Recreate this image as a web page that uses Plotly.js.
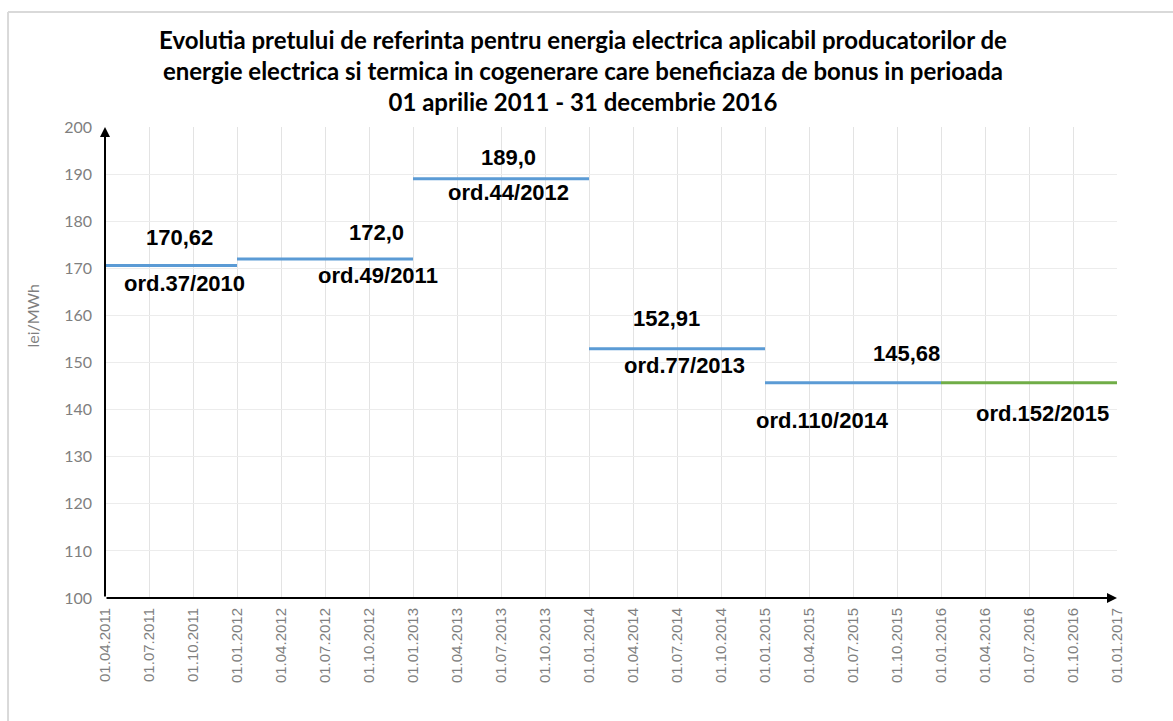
<!DOCTYPE html>
<html>
<head>
<meta charset="utf-8">
<script src="https://cdn.plot.ly/plotly-3.0.1.min.js"></script>
<style>
  html, body { margin: 0; padding: 0; background: #ffffff; }
  #chart { width: 1173px; height: 721px; }
</style>
</head>
<body>
<div id="chart"></div>
<script>
// ---- data ----
const tickLabels = ['01.04.2011','01.07.2011','01.10.2011','01.01.2012','01.04.2012','01.07.2012','01.10.2012',
  '01.01.2013','01.04.2013','01.07.2013','01.10.2013','01.01.2014','01.04.2014','01.07.2014','01.10.2014',
  '01.01.2015','01.04.2015','01.07.2015','01.10.2015','01.01.2016','01.04.2016','01.07.2016','01.10.2016','01.01.2017'];
const periodStart = ['01.04.2011','01.01.2012','01.01.2013','01.01.2014','01.01.2015','01.01.2016'];
const periodEnd   = ['01.01.2012','01.01.2013','01.01.2014','01.01.2015','01.01.2016','01.01.2017'];
const prices      = [170.62, 172.0, 189.0, 152.91, 145.68, 145.68];
const priceLabels = ['170,62', '172,0', '189,0', '152,91', '145,68', ''];
const orders      = ['ord.37/2010','ord.49/2011','ord.44/2012','ord.77/2013','ord.110/2014','ord.152/2015'];
const yTicks      = [100, 110, 120, 130, 140, 150, 160, 170, 180, 190, 200];

// ---- styling / label placement (not data) ----
const lineColors = ['#5b9bd5','#5b9bd5','#5b9bd5','#5b9bd5','#5b9bd5','#70ad47'];
// label anchor positions in axis units (x in quarter index, y in lei/MWh)
const priceLabelPos = [[1.70,176.6],[6.18,177.7],[9.16,193.6],[12.77,159.4],[18.22,152.0]];
const orderLabelPos = [[1.80,166.7],[6.20,168.4],[9.16,186.0],[13.16,149.3],[16.30,137.6],[21.30,139.1]];

const idx = d => tickLabels.indexOf(d);
const tickVals = tickLabels.map((_, i) => i);

const traces = periodStart.map((s, i) => ({
  type: 'scatter',
  mode: 'lines',
  x: [idx(s), idx(periodEnd[i])],
  y: [prices[i], prices[i]],
  line: { color: lineColors[i], width: 3 },
  hoverinfo: 'y',
  showlegend: false
}));

const labelFont = { family: 'Liberation Sans, Arial, sans-serif', size: 22, color: '#000000' };
const annotations = [];
priceLabelPos.forEach((p, i) => {
  if (!priceLabels[i]) return;
  annotations.push({ x: p[0], y: p[1], xref: 'x', yref: 'y', text: '<b>' + priceLabels[i] + '</b>',
    showarrow: false, font: labelFont });
});
orderLabelPos.forEach((p, i) => {
  annotations.push({ x: p[0], y: p[1], xref: 'x', yref: 'y', text: '<b>' + orders[i] + '</b>',
    showarrow: false, font: labelFont });
});
// axis arrows
annotations.push({ x: 0, y: 200, ax: 0, ay: 100, xref: 'x', yref: 'y', axref: 'x', ayref: 'y',
  text: '', showarrow: true, arrowhead: 2, arrowsize: 1, arrowwidth: 2, arrowcolor: '#000000', standoff: 0, startstandoff: 0 });
annotations.push({ x: tickVals.length - 1, y: 100, ax: 0, ay: 100, xref: 'x', yref: 'y', axref: 'x', ayref: 'y',
  text: '', showarrow: true, arrowhead: 2, arrowsize: 1, arrowwidth: 2, arrowcolor: '#000000', standoff: 0, startstandoff: 0 });
// y axis title
annotations.push({ xref: 'paper', yref: 'paper', x: -0.072, y: 0.60, xanchor: 'center', yanchor: 'middle',
  text: 'lei/MWh', textangle: -90,
  showarrow: false, font: { family: 'Lato, Liberation Sans, sans-serif', size: 16, color: '#7f7f7f' } });

const layout = {
  width: 1173, height: 721,
  paper_bgcolor: '#ffffff', plot_bgcolor: '#ffffff',
  margin: { l: 105, r: 56, t: 127, b: 123 },
  title: {
    text: '<b>Evolutia pretului de referinta pentru energia electrica aplicabil producatorilor de<br>energie electrica si termica in cogenerare care beneficiaza de bonus in perioada<br>01 aprilie 2011 - 31 decembrie 2016</b>',
    x: 0.497, xanchor: 'center', xref: 'container',
    y: 0.932, yanchor: 'middle', yref: 'container',
    font: { family: 'Lato, Liberation Sans, sans-serif', size: 24, color: '#000000' }
  },
  xaxis: {
    range: [0, tickVals.length - 1],
    tickmode: 'array', tickvals: tickVals, ticktext: tickLabels,
    tickangle: -90,
    tickfont: { family: 'Liberation Sans, Arial, sans-serif', size: 15, color: '#7f7f7f' },
    showgrid: true, gridcolor: '#e3e3e3', gridwidth: 1,
    zeroline: false, showline: false, ticks: '', ticklabelstandoff: 6, fixedrange: true
  },
  yaxis: {
    range: [100, 200],
    tickmode: 'array', tickvals: yTicks, ticktext: yTicks.map(String),
    tickfont: { family: 'Lato, Liberation Sans, sans-serif', size: 16, color: '#7f7f7f' },
    showgrid: true, gridcolor: '#ececec', gridwidth: 1,
    zeroline: false, showline: false, ticks: '', ticklabelstandoff: 12, fixedrange: true
  },
  shapes: [
    { type: 'line', xref: 'paper', yref: 'paper', x0: -0.0958, x1: -0.0958, y0: 1.244, y1: -0.30,
      line: { color: '#d9d9d9', width: 2 } },
    { type: 'line', xref: 'paper', yref: 'paper', x0: -0.0958, x1: 1.07, y0: 1.244, y1: 1.244,
      line: { color: '#d9d9d9', width: 2 } }
  ],
  annotations: annotations,
  showlegend: false
};

Plotly.newPlot('chart', traces, layout, { displayModeBar: false, staticPlot: true });
</script>
</body>
</html>
